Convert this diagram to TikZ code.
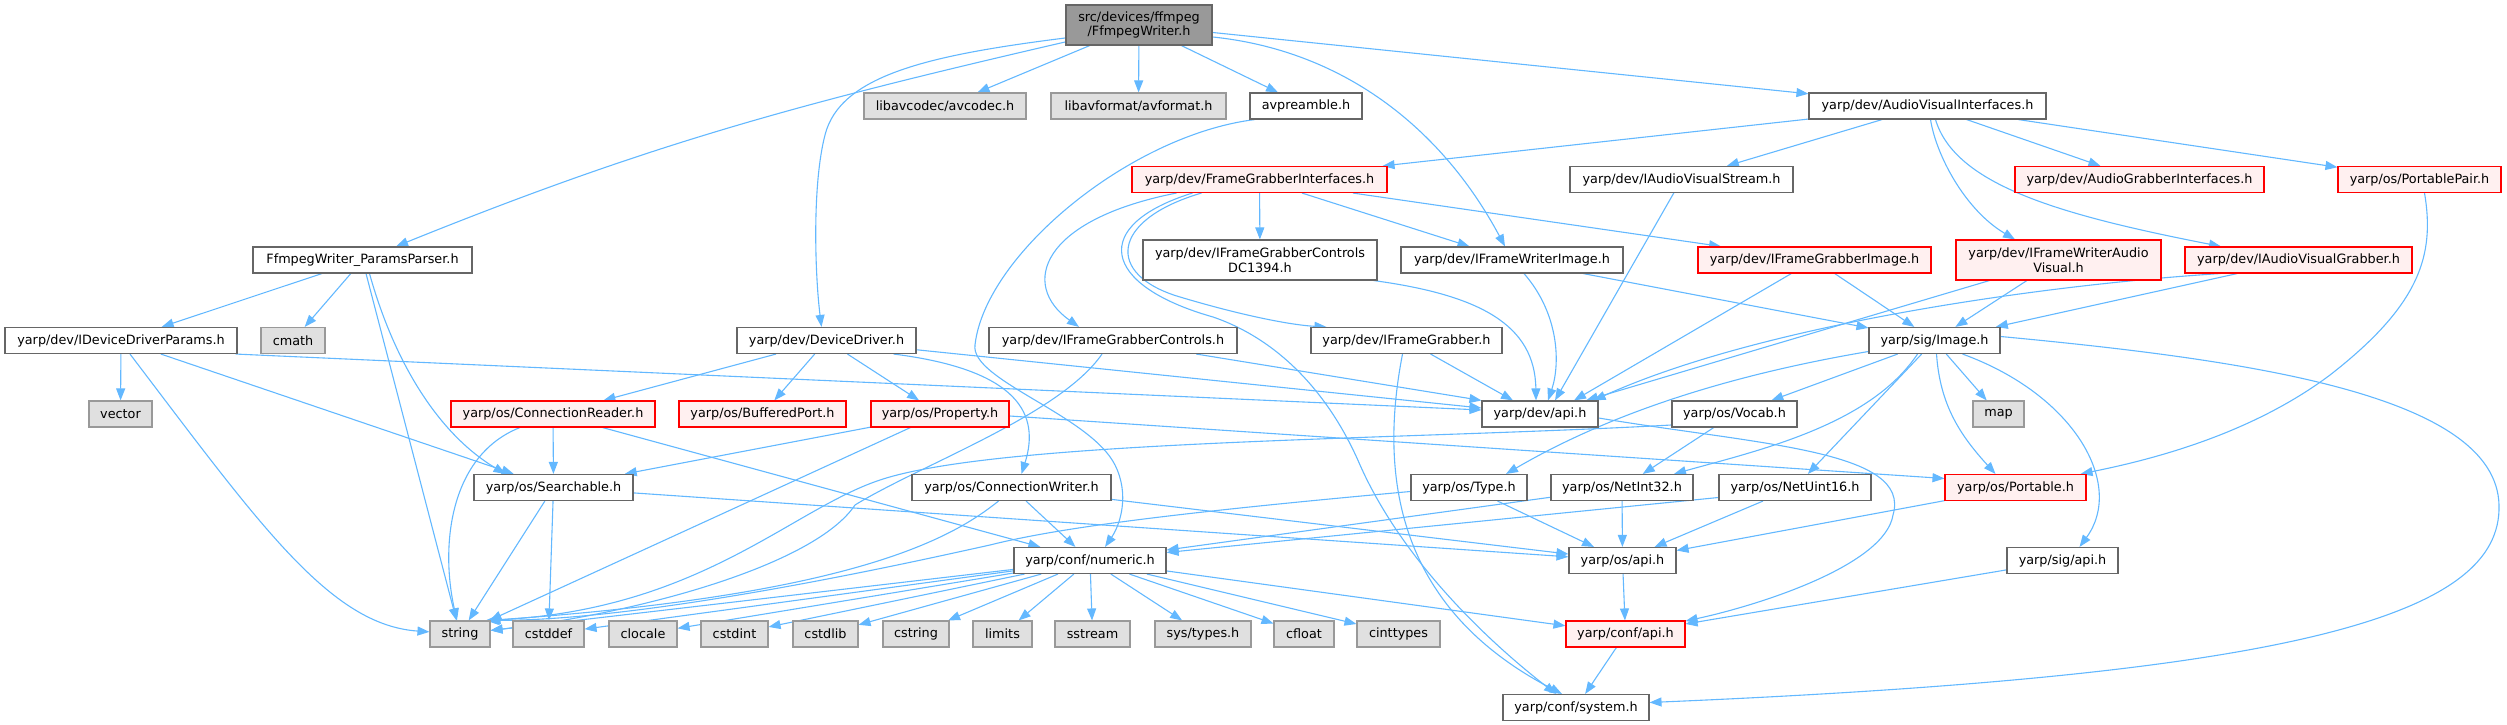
\documentclass[tikz,border=0pt]{standalone}
\usepackage{fontspec}
\setmainfont{DejaVu Sans}
\usetikzlibrary{arrows.meta,backgrounds}
\definecolor{edgec}{HTML}{63B8FF}
\definecolor{bordc}{HTML}{666666}
\definecolor{redfill}{HTML}{FFF0F0}
\definecolor{extfill}{HTML}{E0E0E0}
\definecolor{extbord}{HTML}{999999}
\definecolor{titlefill}{HTML}{999999}
\tikzset{
  nd/.style={draw=bordc, fill=white, line width=1.1pt, inner sep=0pt, minimum height=26pt, align=center, font=\fontsize{12.8}{14.7}\selectfont},
  nd2/.style={nd, minimum height=40pt},
  rd/.style={nd, draw=red, fill=redfill},
  rd2/.style={rd, minimum height=40pt},
  ex/.style={nd, draw=extbord, fill=extfill},
  ttl/.style={nd, fill=titlefill, minimum height=40pt},
  arr/.style={draw=edgec, line width=1.1pt, -{Triangle[length=12pt,width=9pt]}},
}
\begin{document}
\begin{tikzpicture}[x=1pt,y=1pt]
\useasboundingbox (0,0) rectangle (2507,725);
% row 1
\node[ttl, minimum width=146pt] (top) at (1139,700) {src/devices/ffmpeg\\/FfmpegWriter.h};
% row 2
\node[ex, minimum width=162pt] (avcodec) at (945,619) {libavcodec/avcodec.h};
\node[ex, minimum width=175pt] (avformat) at (1138.5,619) {libavformat/avformat.h};
\node[nd, minimum width=112pt] (avpre) at (1306,619) {avpreamble.h};
\node[nd, minimum width=237pt] (avi) at (1927.5,619) {yarp/dev/AudioVisualInterfaces.h};
% row 3
\node[rd, minimum width=255pt] (fgi) at (1259.5,545.5) {yarp/dev/FrameGrabberInterfaces.h};
\node[nd, minimum width=223pt] (avs) at (1681.5,545.5) {yarp/dev/IAudioVisualStream.h};
\node[rd, minimum width=249pt] (agi) at (2139.5,545.5) {yarp/dev/AudioGrabberInterfaces.h};
\node[rd, minimum width=163pt] (pp) at (2419.5,545.5) {yarp/os/PortablePair.h};
% row 4
\node[nd, minimum width=219pt] (ppar) at (362.5,465) {FfmpegWriter\_ParamsParser.h};
\node[nd2, minimum width=234pt] (dc) at (1260,465) {yarp/dev/IFrameGrabberControls\\DC1394.h};
\node[nd, minimum width=222pt] (fwi) at (1512,465) {yarp/dev/IFrameWriterImage.h};
\node[rd, minimum width=233pt] (fgim) at (1814.5,465) {yarp/dev/IFrameGrabberImage.h};
\node[rd2, minimum width=205pt] (fwav) at (2058.5,465) {yarp/dev/IFrameWriterAudio\\Visual.h};
\node[rd, minimum width=227pt] (avg) at (2298.5,465) {yarp/dev/IAudioVisualGrabber.h};
% row 5
\node[nd, minimum width=232pt] (iddp) at (121,384.5) {yarp/dev/IDeviceDriverParams.h};
\node[ex, minimum width=64pt] (cmath) at (293,384.5) {cmath};
\node[nd, minimum width=179pt] (dd) at (826.5,384.5) {yarp/dev/DeviceDriver.h};
\node[nd, minimum width=248pt] (fgc) at (1113,384.5) {yarp/dev/IFrameGrabberControls.h};
\node[nd, minimum width=191pt] (fg) at (1406.5,384.5) {yarp/dev/IFrameGrabber.h};
\node[nd, minimum width=131pt] (img) at (1934.5,384.5) {yarp/sig/Image.h};
% row 6
\node[ex, minimum width=63pt] (vector) at (120.5,311) {vector};
\node[rd, minimum width=204pt] (cr) at (553,311) {yarp/os/ConnectionReader.h};
\node[rd, minimum width=167pt] (bp) at (762.5,311) {yarp/os/BufferedPort.h};
\node[rd, minimum width=138pt] (prop) at (940,311) {yarp/os/Property.h};
\node[nd, minimum width=116pt] (devapi) at (1540,311) {yarp/dev/api.h};
\node[nd, minimum width=125pt] (vocab) at (1734.5,311) {yarp/os/Vocab.h};
\node[ex, minimum width=51pt] (map) at (1998.5,311) {map};
% row 7
\node[nd, minimum width=159pt] (srch) at (553.5,237.5) {yarp/os/Searchable.h};
\node[nd, minimum width=199pt] (cw) at (1011.5,237.5) {yarp/os/ConnectionWriter.h};
\node[nd, minimum width=116pt] (type) at (1469,237.5) {yarp/os/Type.h};
\node[nd, minimum width=142pt] (ni32) at (1622,237.5) {yarp/os/NetInt32.h};
\node[nd, minimum width=152pt] (nu16) at (1795,237.5) {yarp/os/NetUint16.h};
\node[rd, minimum width=141pt] (port) at (2015.5,237.5) {yarp/os/Portable.h};
% row 8
\node[nd, minimum width=152pt] (num) at (1090,164.5) {yarp/conf/numeric.h};
\node[nd, minimum width=107pt] (osapi) at (1622.5,164.5) {yarp/os/api.h};
\node[nd, minimum width=111pt] (sigapi) at (2062.5,164.5) {yarp/sig/api.h};
% row 9
\node[ex, minimum width=60pt] (string) at (460,91) {string};
\node[ex, minimum width=71pt] (cstddef) at (548.5,91) {cstddef};
\node[ex, minimum width=68pt] (clocale) at (643,91) {clocale};
\node[ex, minimum width=67pt] (cstdint) at (734.5,91) {cstdint};
\node[ex, minimum width=65pt] (cstdlib) at (825.5,91) {cstdlib};
\node[ex, minimum width=66pt] (cstring) at (916,91) {cstring};
\node[ex, minimum width=59pt] (limits) at (1002.5,91) {limits};
\node[ex, minimum width=75pt] (sstream) at (1092.5,91) {sstream};
\node[ex, minimum width=96pt] (systypes) at (1203,91) {sys/types.h};
\node[ex, minimum width=60pt] (cfloat) at (1304,91) {cfloat};
\node[ex, minimum width=83pt] (cinttypes) at (1398.5,91) {cinttypes};
\node[rd, minimum width=119pt] (confapi) at (1625.5,91) {yarp/conf/api.h};
% row 10
\node[nd, minimum width=146pt] (sys) at (1576,17.5) {yarp/conf/system.h};

\begin{pgfonlayer}{background}
% title
\draw[arr] (top) to[out=193,in=22] (ppar);
\draw[arr] (top.190) .. controls (930,670) and (840,650) .. (825,590) .. controls (812,540) and (815,450) .. ([xshift=-5]dd.north);
\draw[arr] (top) -- (avcodec);
\draw[arr] (top) -- (avformat);
\draw[arr] (top) -- (avpre);
\draw[arr] ([yshift=-12]top.east) .. controls (1340,675) and (1440,600) .. ([xshift=-7]fwi.north);
\draw[arr] (top) -- (avi);
% avpreamble
\draw[arr] ([xshift=-51]avpre.south) .. controls (1130,590) and (985,470) .. (975,380) .. controls (970,345) and (1090,310) .. (1115,260) .. controls (1130,230) and (1120,200) .. ([xshift=15]num.north);
% AudioVisualInterfaces
\draw[arr] (avi) -- (fgi);
\draw[arr] (avi) -- (avs);
\draw[arr] ([xshift=3]avi.south) .. controls (1936,570) and (1965,515) .. ([xshift=-43.5]fwav.north);
\draw[arr] ([xshift=8]avi.south) .. controls (1955,540) and (2060,510) .. ([xshift=-77.5]avg.north);
\draw[arr] (avi) -- (agi);
\draw[arr] (avi) -- (pp);
% FrameGrabberInterfaces
\draw[arr] ([xshift=45]fgi.south west) .. controls (1040,505) and (1020,440) .. ([xshift=-34]fgc.north);
\draw[arr] ([xshift=61]fgi.south west) .. controls (1090,500) and (1100,440) .. (1213,408) .. controls (1280,385) and (1330,330) .. (1360,260) .. controls (1400,170) and (1480,90) .. ([xshift=-20]sys.north);
\draw[arr] ([xshift=70]fgi.south west) .. controls (1110,505) and (1105,450) .. (1180,428) .. controls (1240,410) and (1290,400) .. ([xshift=-80]fg.north);
\draw[arr] (fgi) -- (dc);
\draw[arr] (fgi) -- (fwi);
\draw[arr] (fgi) -- (fgim);
% IAudioVisualStream, PortablePair
\draw[arr] (avs) -- ([xshift=15]devapi.north);
\draw[arr] ([xshift=5]pp.south) .. controls (2435,470) and (2420,420) .. (2330,350) .. controls (2250,290) and (2150,265) .. ([xshift=-6]port.north east);
% ParamsParser
\draw[arr] (ppar) -- (iddp);
\draw[arr] (ppar) -- (cmath);
\draw[arr] (ppar) -- (string);
\draw[arr] ([xshift=7]ppar.south) .. controls (395,360) and (440,290) .. ([xshift=-48]srch.north);
% row 4 interfaces
\draw[arr] ([xshift=-4]dc.south east) .. controls (1480,430) and (1535,400) .. ([xshift=-4]devapi.north);
\draw[arr] ([xshift=12]fwi.south) .. controls (1560,410) and (1560,360) .. ([xshift=8]devapi.north);
\draw[arr] (fwi) -- (img);
\draw[arr] (fgim) -- ([xshift=34]devapi.north);
\draw[arr] (fgim) -- (img);
\draw[arr] (fwav) -- ([xshift=46]devapi.north);
\draw[arr] (fwav) -- (img);
\draw[arr] ([xshift=36]avg.south west) .. controls (2040,440) and (1760,400) .. ([xshift=-5]devapi.north east);
\draw[arr] (avg) -- (img);
% IDeviceDriverParams
\draw[arr] (iddp) -- (vector);
\draw[arr] ([xshift=9]iddp.south) .. controls (260,200) and (330,100) .. (string);
\draw[arr] (iddp) -- (srch);
\draw[arr] ([xshift=-2]iddp.south east) -- ([yshift=4]devapi.west);
% DeviceDriver
\draw[arr] (dd) -- (cr);
\draw[arr] (dd) -- (bp);
\draw[arr] (dd) -- (prop);
\draw[arr] (dd) -- (devapi);
\draw[arr] ([xshift=-23]dd.south east) .. controls (1020,355) and (1040,310) .. ([xshift=10]cw.north);
% IFrameGrabberControls, IFrameGrabber
\draw[arr] ([xshift=-11]fgc.south) .. controls (1060,310) and (920,260) .. (855,220) .. controls (815,160) and (640,112) .. (string);
\draw[arr] (fgc) -- (devapi.north west);
\draw[arr] (fg) -- ([xshift=-27]devapi.north);
\draw[arr] ([xshift=-4]fg.south) .. controls (1375,230) and (1410,110) .. ([xshift=-14]sys.north);
% Image
\draw[arr] ([yshift=-11]img.west) .. controls (1700,345) and (1590,300) .. ([xshift=37]type.north);
\draw[arr] (img) -- (vocab);
\draw[arr] ([xshift=-17]img.south) .. controls (1870,300) and (1760,275) .. ([xshift=52]ni32.north);
\draw[arr] (img) -- (nu16);
\draw[arr] ([xshift=2]img.south) .. controls (1940,320) and (1960,290) .. ([xshift=-20]port.north);
\draw[arr] (img) -- (map);
\draw[arr] ([xshift=28]img.south) .. controls (2075,330) and (2125,240) .. ([xshift=17]sigapi.north);
\draw[arr] ([yshift=4]img.east) .. controls (2250,365) and (2496,330) .. (2499,220) .. controls (2502,110) and (2300,50) .. ([yshift=5]sys.east);
% ConnectionReader, Property
\draw[arr] (cr) -- (srch);
\draw[arr] ([xshift=-33]cr.south) .. controls (450,270) and (440,180) .. (string);
\draw[arr] (cr) -- (num);
\draw[arr] (prop) -- (srch);
\draw[arr] (prop) -- (string);
\draw[arr] ([yshift=-2]prop.east) -- ([yshift=9]port.west);
% dev/api, Vocab
\draw[arr] ([yshift=-4]devapi.east) .. controls (1760,280) and (1912,275) .. (1893,210) .. controls (1885,160) and (1760,120) .. (confapi);
\draw[arr] ([yshift=-11]vocab.west) .. controls (1400,285) and (1000,285) .. (880,245) .. controls (790,215) and (700,115) .. ([xshift=-5]string.north east);
\draw[arr] (vocab) -- (ni32);
% row 7
\draw[arr] (srch) -- (string);
\draw[arr] (srch) -- (cstddef);
\draw[arr] (srch) -- (osapi);
\draw[arr] ([xshift=-13]cw.south) .. controls (950,185) and (850,130) .. ([xshift=-2]string.north east);
\draw[arr] (cw) -- (num);
\draw[arr] (cw) -- (osapi);
\draw[arr] (type) -- (osapi);
\draw[arr] ([yshift=-4]type.west) .. controls (1150,210) and (1050,195) .. (990,180) .. controls (900,160) and (650,105) .. ([xshift=-3]string.north east);
\draw[arr] (ni32) -- (osapi);
\draw[arr] (ni32) -- (num);
\draw[arr] (nu16) -- (osapi);
\draw[arr] ([yshift=-10]nu16.west) -- ([yshift=8]num.east);
\draw[arr] (port) -- (osapi);
% numeric
\foreach \tg in {string,cstddef,clocale,cstdint,cstdlib,cstring,limits,sstream,systypes,cfloat,cinttypes,confapi}
  \draw[arr] (num) -- (\tg);
% api chain
\draw[arr] (osapi) -- (confapi);
\draw[arr] (sigapi) -- (confapi);
\draw[arr] (confapi) -- (sys);
\end{pgfonlayer}
\end{tikzpicture}
\end{document}
